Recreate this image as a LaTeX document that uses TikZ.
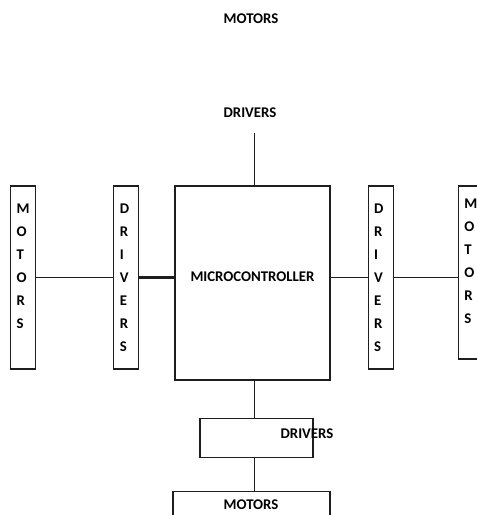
\documentclass[tikz,border=0pt]{standalone}
\usepackage{fontspec}
\setmainfont{Carlito}
\usetikzlibrary{positioning}
\definecolor{lineblack}{RGB}{30,30,30}

\begin{document}
\begin{tikzpicture}[
  x=1pt,y=1pt,
  txt/.style={font=\bfseries\fontsize{14.8}{23}\selectfont,inner sep=0pt},
  vbox/.style={draw=lineblack,line width=1.2pt,inner sep=0pt,minimum width=25pt,
    minimum height=183pt,align=left,text width=13pt,font=\bfseries\fontsize{14.8}{23}\selectfont},
  hbox/.style={draw=lineblack,line width=1.2pt,inner sep=0pt},
  conn/.style={draw=lineblack,line width=0.8pt}
]
\useasboundingbox (0,0) rectangle (477,515);
% centre block
\node[hbox,minimum width=155pt,minimum height=194pt,txt,text depth=12pt] (mc) at (252.5,232) {MICROCONTROLLER};
% left side
\node[vbox,left=35pt of mc,yshift=5.5pt] (ldrv) {D\\R\\I\\V\\E\\R\\S};
\node[vbox,left=77pt of ldrv] (lmot) {M\\O\\T\\O\\R\\S\\\mbox{}};
% right side
\node[vbox,right=37pt of mc,yshift=5.5pt] (rdrv) {D\\R\\I\\V\\E\\R\\S};
\node[vbox,right=64pt of rdrv,yshift=5pt,minimum height=173pt] (rmot) {M\\O\\T\\O\\R\\S\\\mbox{}};
% top
\node[txt] (tmot) at (251,496) {MOTORS};
\node[txt] (tdrv) at (250,402) {DRIVERS};
\coordinate (tend) at (254,382);
% bottom
\node[hbox,below=37pt of mc,xshift=4pt,minimum width=113pt,minimum height=39pt] (bdrv) {};
\node[txt] (bdrvtxt) at (307,81) {DRIVERS};
\node[hbox,below=33pt of bdrv,xshift=-5pt,minimum width=157pt,minimum height=60pt] (bmot) {};
\node[txt] (bmottxt) at (251,10) {MOTORS};

\draw[conn] (lmot.east) -- (ldrv.west);
\draw[lineblack,line width=3.5pt] (ldrv.east) -- (mc.west |- ldrv.east);
\draw[conn] (mc.east |- rdrv.west) -- (rdrv.west);
\draw[conn] (rdrv.east) -- (rmot.west |- rdrv.east);
\draw[conn] (tend) -- (tend |- mc.north);
\draw[conn] (tend |- mc.south) -- (tend |- bdrv.north);
\draw[conn] (tend |- bdrv.south) -- (tend |- bmot.north);
\end{tikzpicture}
\end{document}
